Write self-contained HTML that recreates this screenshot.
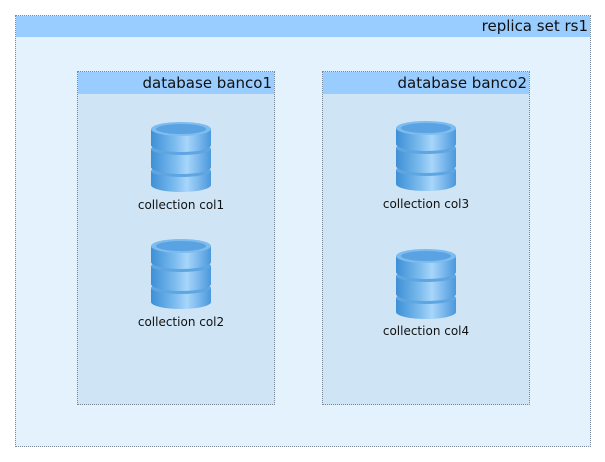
<!DOCTYPE html>
<html><head><style>
body{margin:0;width:605px;height:462px;background:#fff;position:relative;font-family:"DejaVu Sans","Liberation Sans",sans-serif;overflow:hidden}
.box{position:absolute;border:1px dotted #7a8a9a;box-sizing:border-box}
.hd{position:absolute;left:0;right:0;top:0;background:#99ccff;text-align:right;color:#111;padding-right:2px}
.lbl{position:absolute;width:140px;text-align:center;font-size:12px;color:#111}
svg{position:absolute}
</style></head><body>
<svg width="0" height="0" style="position:absolute">
<defs>
<linearGradient id="g" x1="0" x2="1">
<stop offset="0" stop-color="#3d8fd6"/><stop offset="0.4" stop-color="#7dbcee"/><stop offset="0.6" stop-color="#a8d6fa"/><stop offset="1" stop-color="#4a98dc"/>
</linearGradient>
<symbol id="cyl" viewBox="0 0 62 72">
<path d="M1 50 v14 a30 7 0 0 0 60 0 v-14z" fill="url(#g)"/>
<ellipse cx="31" cy="50" rx="30" ry="6" fill="#5fa5e2"/>
<path d="M1 28 v18 a30 7 0 0 0 60 0 v-18z" fill="url(#g)"/>
<ellipse cx="31" cy="28" rx="30" ry="6" fill="#5fa5e2"/>
<path d="M1 8 v16 a30 7 0 0 0 60 0 v-16z" fill="url(#g)"/>
<ellipse cx="31" cy="8" rx="30" ry="7" fill="#7dbcee"/>
<ellipse cx="31" cy="8" rx="25" ry="5" fill="#5aa2e2"/>
</symbol>
</defs></svg>
<div class="box" style="left:15px;top:15px;width:576px;height:432px;background:#e3f2fd">
<div class="hd" style="height:21px;font-size:15px;line-height:21px">replica set rs1</div></div>
<div class="box" style="left:77px;top:71px;width:198px;height:334px;background:#cfe5f6">
<div class="hd" style="height:22px;font-size:15px;line-height:22px">database banco1</div></div>
<div class="box" style="left:322px;top:71px;width:208px;height:334px;background:#cfe5f6">
<div class="hd" style="height:22px;font-size:15px;line-height:22px">database banco2</div></div>
<svg style="left:150px;top:121px" width="62" height="72"><use href="#cyl"/></svg>
<div class="lbl" style="left:111px;top:198px">collection col1</div>
<svg style="left:150px;top:238px" width="62" height="72"><use href="#cyl"/></svg>
<div class="lbl" style="left:111px;top:315px">collection col2</div>
<svg style="left:395px;top:120px" width="62" height="72"><use href="#cyl"/></svg>
<div class="lbl" style="left:356px;top:197px">collection col3</div>
<svg style="left:395px;top:248px" width="62" height="72"><use href="#cyl"/></svg>
<div class="lbl" style="left:356px;top:324px">collection col4</div>
</body></html>
